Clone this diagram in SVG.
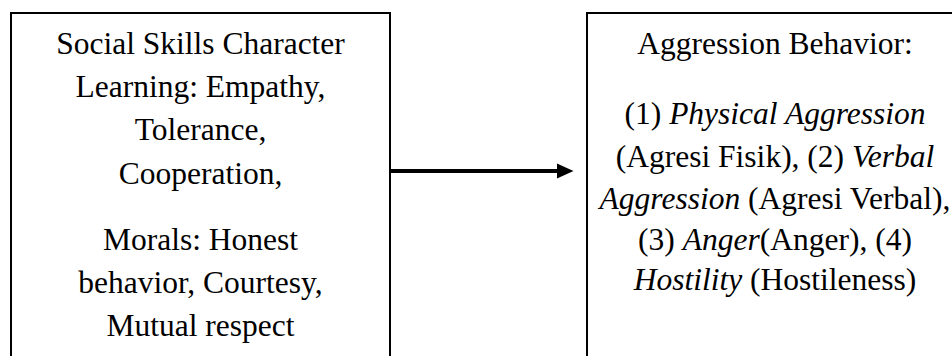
<svg xmlns="http://www.w3.org/2000/svg" width="952" height="356" viewBox="0 0 952 356">
<style>
.box{fill:none;stroke:#000;stroke-width:2}
.t{font-family:"Liberation Serif","Times New Roman",serif;font-size:31.5px;fill:#000;text-anchor:middle}
.i{font-style:italic}
</style>
<rect width="952" height="356" fill="#fff"/>
<g id="node-left">
<path class="box" d="M11,357 V13 H390 V357"/>
<text class="t" x="200.5" y="53.5">Social Skills Character</text>
<text class="t" x="200.5" y="97">Learning: Empathy,</text>
<text class="t" x="200.5" y="140">Tolerance,</text>
<text class="t" x="200.5" y="183.5">Cooperation,</text>
<text class="t" x="200.5" y="250">Morals: Honest</text>
<text class="t" x="200.5" y="293">behavior, Courtesy,</text>
<text class="t" x="200.5" y="336">Mutual respect</text>
</g>
<g id="node-right">
<path class="box" d="M587,357 V13 H953"/>
<text class="t" x="775" y="53.5">Aggression Behavior:</text>
<text class="t" x="775" y="124">(1) <tspan class="i">Physical Aggression</tspan></text>
<text class="t" x="775" y="167">(Agresi Fisik), (2) <tspan class="i">Verbal</tspan></text>
<text class="t" x="775" y="209"><tspan class="i">Aggression</tspan> (Agresi Verbal),</text>
<text class="t" x="775" y="250">(3) <tspan class="i">Anger</tspan>(Anger), (4)</text>
<text class="t" x="775" y="290"><tspan class="i">Hostility</tspan> (Hostileness)</text>
</g>
<g id="connectors">
<line x1="390" y1="171" x2="558" y2="171" stroke="#000" stroke-width="4"/>
<polygon points="557,163.5 573.5,171 557,178.5" fill="#000"/>
</g>
</svg>
